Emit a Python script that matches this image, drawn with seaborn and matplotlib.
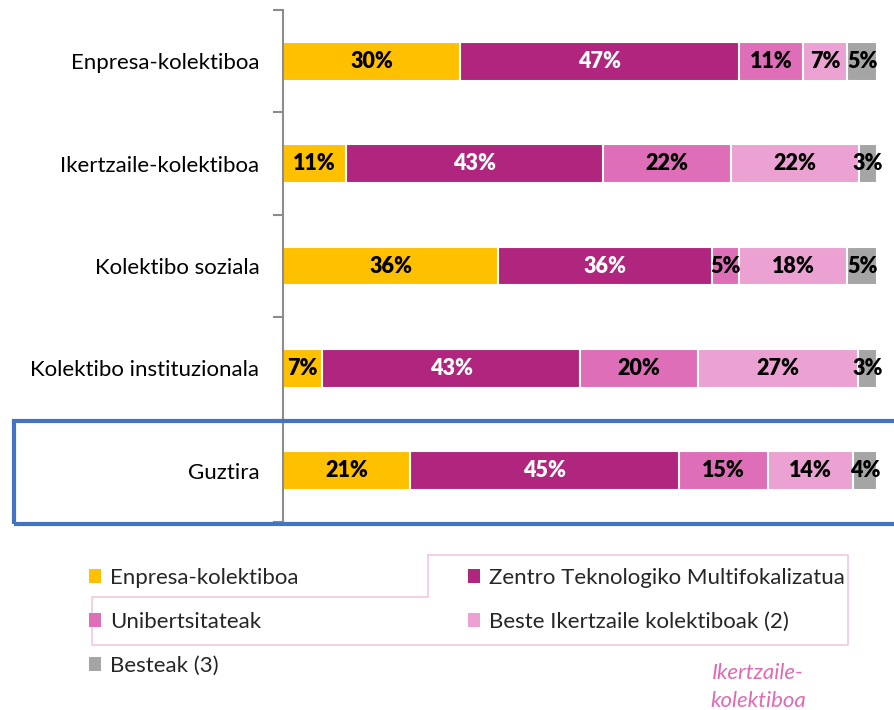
import matplotlib
matplotlib.use("Agg")
import matplotlib.pyplot as plt
from matplotlib.patches import Rectangle, Patch
from matplotlib.lines import Line2D
import numpy as np
import pandas as pd
import seaborn as sns

# ---------------- data ----------------
categories = ["Enpresa-kolektiboa", "Ikertzaile-kolektiboa", "Kolektibo soziala",
              "Kolektibo instituzionala", "Guztira"]
series = ["Enpresa-kolektiboa", "Zentro Teknologiko Multifokalizatua",
          "Unibertsitateak", "Beste Ikertzaile kolektiboak (2)", "Besteak (3)"]
enpresa = [29.8, 10.6, 36.2, 6.6, 21.4]
zentro = [47.0, 43.2, 36.0, 43.4, 45.2]
unibertsitateak = [10.8, 21.6, 4.6, 19.8, 15.0]
beste_ikertzaile = [7.4, 21.6, 18.2, 27.0, 14.3]
besteak = [5.0, 3.0, 5.0, 3.2, 4.1]
labels = [
    ["30%", "47%", "11%", "7%", "5%"],
    ["11%", "43%", "22%", "22%", "3%"],
    ["36%", "36%", "5%", "18%", "5%"],
    ["7%", "43%", "20%", "27%", "3%"],
    ["21%", "45%", "15%", "14%", "4%"],
]
colors = ["#FFC000", "#B0267F", "#DE6EB8", "#EBA1D1", "#A5A5A5"]
label_colors = ["black", "white", "black", "black", "black"]

values = [enpresa, zentro, unibertsitateak, beste_ikertzaile, besteak]

# ---------------- figure ----------------
sns.set_theme(style="white")
plt.rcParams["font.family"] = ["Lato", "DejaVu Sans"]

fig = plt.figure(figsize=(8.95, 7.10), dpi=100)
ax = fig.add_axes([283 / 895, 1 - 522 / 710, (877 - 283) / 895, (522 - 10) / 710])

cum = np.cumsum(np.array(values), axis=0)  # shape (series, categories)
# draw from the longest cumulative to shortest so the segments stack
for i in range(len(series) - 1, -1, -1):
    df = pd.DataFrame({"category": categories, "value": cum[i]})
    sns.barplot(data=df, y="category", x="value", orient="h", color=colors[i],
                saturation=1, width=0.38, edgecolor="white", linewidth=1.5,
                ax=ax, zorder=2)

# segment labels
for ci, cat in enumerate(categories):
    start = 0
    for si in range(len(series)):
        v = values[si][ci]
        ax.text(start + v / 2, ci, labels[ci][si], ha="center", va="center",
                fontsize=15.5, fontweight="heavy", color=label_colors[si], zorder=5)
        start += v

ax.set_xlim(0, 100)
ax.set_ylim(len(categories) - 0.5, -0.5)
ax.set_xlabel("")
ax.set_ylabel("")
ax.set_xticks([])
for s in ["top", "right", "bottom"]:
    ax.spines[s].set_visible(False)
ax.spines["left"].set_color("#8C8C8C")
ax.spines["left"].set_linewidth(1.5)
ax.tick_params(axis="y", which="major", length=0, pad=17, labelsize=16,
               labelcolor="black")
ax.set_yticks(np.arange(-0.5, len(categories), 1.0), minor=True)
ax.tick_params(axis="y", which="minor", length=7, width=1.5, color="#8C8C8C",
               direction="out", left=True)
ax.patch.set_alpha(0)

# highlight box around Guztira
fig.patches.append(Rectangle((14 / 895, 1 - 524 / 710), 1.0, 103 / 710,
                             transform=fig.transFigure, fill=False,
                             edgecolor="#4472C4", linewidth=3, zorder=10))

# pink outline shape in legend area
px = np.array([428, 848, 848, 92, 92, 428, 428]) / 895
py = 1 - np.array([555, 555, 645, 645, 597, 597, 555]) / 710
fig.add_artist(Line2D(px, py, transform=fig.transFigure, color="#F5C8E2",
                      linewidth=1.2))

# legend
order = [0, 2, 4, 1, 3]
handles = [Patch(facecolor=colors[i], edgecolor="none") for i in order]
leg_labels = [series[i] for i in order]
fig.legend(handles, leg_labels, ncol=2, loc="upper left",
           bbox_to_anchor=(89 / 895, 1 - 568 / 710), frameon=False,
           fontsize=16, handlelength=0.55, handleheight=0.55,
           handletextpad=0.4, labelspacing=1.08, columnspacing=7.6,
           borderpad=0, borderaxespad=0)

fig.text(758 / 895, 1 - 687 / 710, "Ikertzaile-\nkolektiboa", ha="center",
         va="center", fontsize=16, fontstyle="italic", color="#E06AB4",
         linespacing=1.55)

fig.savefig("out.png", dpi=100)
